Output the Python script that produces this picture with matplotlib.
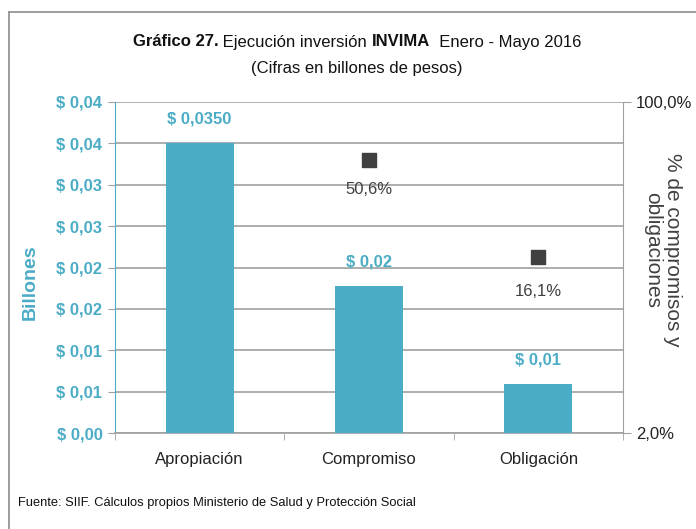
import matplotlib
matplotlib.use("Agg")
import matplotlib.pyplot as plt
from matplotlib.lines import Line2D

categories = ["Apropiación", "Compromiso", "Obligación"]
amounts = [0.0350, 0.0178, 0.0059]
amount_labels = ["$ 0,0350", "$ 0,02", "$ 0,01"]
pct_cats = [1, 2]
pct_values = [0.506, 0.161]
pct_labels = ["50,6%", "16,1%"]
left_ticks = [0.0, 0.005, 0.01, 0.015, 0.02, 0.025, 0.03, 0.035, 0.04]
left_tick_labels = ["$ 0,00", "$ 0,01", "$ 0,01", "$ 0,02", "$ 0,02",
                    "$ 0,03", "$ 0,03", "$ 0,04", "$ 0,04"]
right_ticks = [0.02, 1.0]
right_tick_labels = ["2,0%", "100,0%"]

plt.rcParams['font.family'] = ['Liberation Sans', 'DejaVu Sans']

TEAL = "#4BACC6"
DARK = "#404040"
GRID = "#A0A0A0"

W, H = 696, 529
fig = plt.figure(figsize=(W / 100, H / 100), dpi=100)
ax = fig.add_axes([115 / W, 1 - 433 / H, (623 - 115) / W, (433 - 102) / H])

x = list(range(len(categories)))
ax.bar(x, amounts, width=0.4, color=TEAL, zorder=3)
ax.set_xlim(-0.5, 2.5)
ax.set_ylim(0, 0.04)
ax.set_yticks(left_ticks)
ax.set_yticklabels(left_tick_labels, color=TEAL, fontsize=12, fontweight='bold')
ax.yaxis.grid(True, color=GRID, linewidth=1.2, zorder=0)
ax.set_axisbelow(True)
ax.set_xticks(x)
ax.set_xticklabels(categories, fontsize=12, color="#222222")
ax.tick_params(axis='x', length=0, pad=14)
ax.set_xticks([-0.5, 0.5, 1.5, 2.5], minor=True)
ax.tick_params(axis='x', which='minor', length=5, color=GRID)
ax.tick_params(axis='y', length=5, color=GRID, pad=4)
for s in ['top', 'right']:
    ax.spines[s].set_visible(False)
ax.spines['left'].set_color(TEAL)
ax.spines['bottom'].set_color(GRID)
ax.spines['bottom'].set_linewidth(1.2)

for xi, v, lab in zip(x, amounts, amount_labels):
    ax.annotate(lab, (xi, v), xytext=(0, 12), textcoords='offset points',
                ha='center', va='bottom', color=TEAL, fontsize=12, fontweight='bold')

ax.set_ylabel("Billones", color=TEAL, fontsize=14, fontweight='bold')
ax.yaxis.set_label_coords((39 - 115) / 508, (433 - 282) / 331)

ax2 = ax.twinx()
ax2.set_yscale('log')
ax2.set_ylim(0.02, 1.0)
ax2.set_yticks(right_ticks)
ax2.set_yticklabels(right_tick_labels, fontsize=12, color="#222222")
ax2.yaxis.set_minor_locator(matplotlib.ticker.NullLocator())
ax2.tick_params(axis='y', length=6, color=GRID)
for s in ['top', 'left', 'bottom']:
    ax2.spines[s].set_visible(False)
ax2.spines['right'].set_color(GRID)
ax2.scatter(pct_cats, pct_values, marker='s', s=110, color=DARK, zorder=4)
for xi, v, lab, off in zip(pct_cats, pct_values, pct_labels, [-16, -20]):
    ax2.annotate(lab, (xi, v), xytext=(0, off), textcoords='offset points',
                 ha='center', va='top', color=DARK, fontsize=12)

fig.text(663 / W, 1 - 250 / H, "% de compromisos y\nobligaciones", rotation=-90,
         fontsize=15, color=DARK, ha='center', va='center', linespacing=1.05,
         multialignment='center')

# title with mixed weights
TITLE_CX = 357 / W
parts = [("Gráfico 27.", 'bold'), (" Ejecución inversión ", 'normal'),
         ("INVIMA", 'bold'), ("  Enero - Mayo 2016", 'normal')]
texts = [fig.text(0, 1 - 42 / H, p, fontsize=12, fontweight=w, va='center', color="#111111")
         for p, w in parts]
fig.canvas.draw()
r = fig.canvas.get_renderer()
widths = [t.get_window_extent(r).width / W for t in texts]
cur = TITLE_CX - sum(widths) / 2
for t, w in zip(texts, widths):
    t.set_x(cur)
    cur += w
fig.text(TITLE_CX, 1 - 69 / H, "(Cifras en billones de pesos)", fontsize=12,
         ha='center', va='center', color="#111111")

fig.text(18 / W, 1 - 503 / H,
         "Fuente: SIIF. Cálculos propios Ministerio de Salud y Protección Social",
         fontsize=9.3, va='center', color="#111111")

fig.add_artist(Line2D([9 / W, 1], [1 - 12 / H, 1 - 12 / H], color="#8C8C8C", lw=1.2,
                      transform=fig.transFigure))
fig.add_artist(Line2D([9 / W, 9 / W], [0, 1 - 12 / H], color="#8C8C8C", lw=1.2,
                      transform=fig.transFigure))

fig.savefig("out.png", dpi=100)
